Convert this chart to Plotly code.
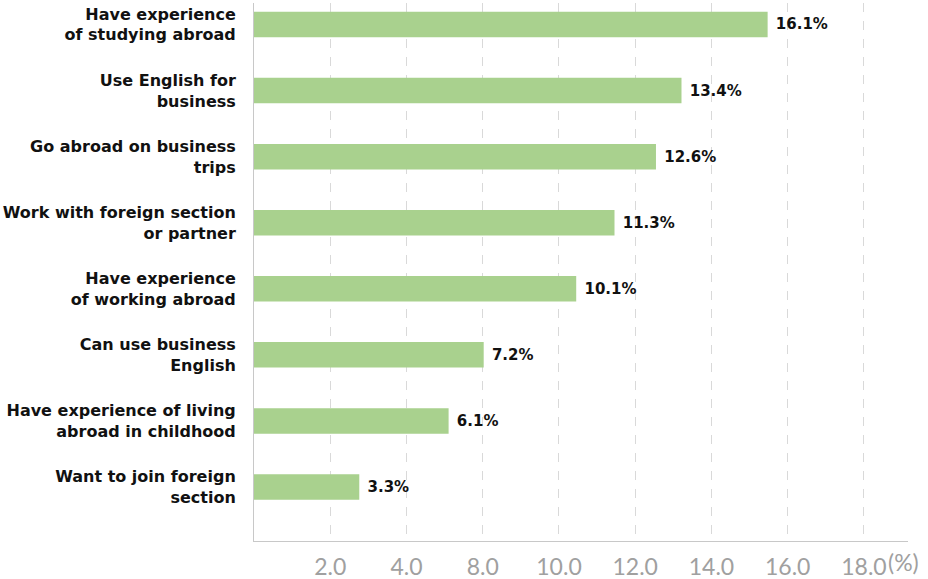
import plotly.graph_objects as go

categories = [
    "Have experience<br>of studying abroad",
    "Use English for<br>business",
    "Go abroad on business<br>trips",
    "Work with foreign section<br>or partner",
    "Have experience<br>of working abroad",
    "Can use business<br>English",
    "Have experience of living<br>abroad in childhood",
    "Want to join foreign<br>section",
]
values = [16.1, 13.4, 12.6, 11.3, 10.1, 7.2, 6.1, 3.3]
tick_labels = ["2.0", "4.0", "8.0", "10.0", "12.0", "14.0", "16.0", "18.0"]
unit_suffix = "(%)"

X_MAX = 20.5
GRID_STEP = 2.39
tick_positions = [GRID_STEP * (i + 1) for i in range(len(tick_labels))]

BAR_COLOR = "#a9d18e"
LABEL_FONT = "DejaVu Sans"
TICK_FONT = "Lato"

fig = go.Figure(
    go.Bar(
        x=values,
        y=categories,
        orientation="h",
        marker=dict(color=BAR_COLOR, line=dict(width=0)),
        width=0.386,
        text=[f"\u00a0{v:.1f}%" for v in values],
        textposition="outside",
        textfont=dict(family=LABEL_FONT, size=15, color="#111111", weight="bold"),
        cliponaxis=False,
        hoverinfo="skip",
    )
)

fig.update_layout(
    width=928,
    height=579,
    margin=dict(l=254, r=20, t=3, b=38),
    plot_bgcolor="white",
    paper_bgcolor="white",
    showlegend=False,
    bargap=0.6,
)

fig.update_xaxes(
    range=[0, X_MAX],
    tickmode="array",
    tickvals=tick_positions,
    ticktext=tick_labels,
    showgrid=True,
    gridcolor="#d9d9d9",
    griddash="dash",
    gridwidth=1,
    showline=True,
    linecolor="#c8c8c8",
    linewidth=1,
    zeroline=False,
    ticks="",
    tickfont=dict(family=TICK_FONT, size=23, color="#a0a0a0"),
    ticklabelstandoff=5,
    automargin=False,
)

fig.update_yaxes(
    type="category",
    categoryorder="array",
    categoryarray=categories,
    range=[7.817, -0.325],
    showgrid=False,
    showline=True,
    linecolor="#c8c8c8",
    linewidth=1,
    zeroline=False,
    ticks="",
    tickfont=dict(family=LABEL_FONT, size=16, color="#111111", weight="bold"),
    ticklabelstandoff=14,
    automargin=False,
)

fig.add_annotation(
    x=tick_positions[-1],
    xref="x",
    y=0,
    yref="paper",
    text=unit_suffix,
    showarrow=False,
    xanchor="left",
    yanchor="top",
    xshift=22,
    yshift=-5,
    font=dict(family=TICK_FONT, size=23, color="#a0a0a0"),
)

fig.write_html(
    "out.html",
    config={"displayModeBar": False},
    post_script="document.body.style.margin='0';document.body.style.padding='0';",
)
